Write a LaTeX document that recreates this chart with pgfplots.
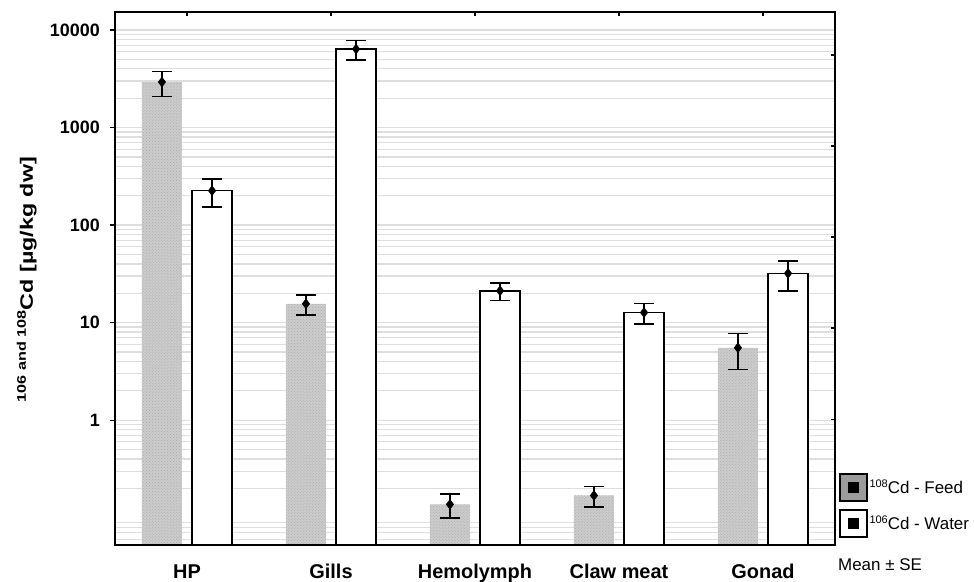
\documentclass[border=0pt]{standalone}
\usepackage{fontspec}
\setmainfont{Liberation Sans}
\usepackage{pgfplots}
\pgfplotsset{compat=1.18}
\usetikzlibrary{patterns}

\definecolor{gridgray}{RGB}{222,222,222}
\definecolor{feedgray}{RGB}{204,204,204}
\definecolor{feeddot}{RGB}{170,170,170}
\definecolor{legendgray}{RGB}{155,155,155}

% mean and SE per tissue; feed bars sit left of each category, water bars right
\pgfplotstableread{
x       y       e
-0.174  2930    840
0.826   15.6    3.6
1.826   0.137   0.038
2.826   0.169   0.040
3.826   5.52    2.2
}\feedtable
\pgfplotstableread{
x       y       e
0.174   225     71
1.174   6383    1460
2.174   21.2    4.4
3.174   12.7    3.0
4.174   32.0    10.8
}\watertable

\begin{document}
\begin{tikzpicture}
\begin{axis}[
  scale only axis, width=720bp, height=533bp,
  xmin=-0.5, xmax=4.5,
  ymode=log, ymin=0.0525, ymax=15300,
  axis line style={line width=1.3bp, black},
  log origin y=infty,
  xtick={0,1,2,3,4},
  xticklabels={HP,Gills,Hemolymph,Claw meat,Gonad},
  xtick style={draw=none},
  xticklabel style={font=\fontsize{20}{20}\selectfont\bfseries, anchor=base, inner sep=0pt, yshift=-28bp},
  ytick={1,10,100,1000,10000},
  yticklabels={1,10,100,1000,10000},
  ytick pos=left,
  tick align=outside,
  major tick length=5bp,
  ytick style={line width=1.3bp, black},
  yticklabel style={font=\fontsize{18}{18}\selectfont\bfseries, anchor=east, inner sep=0pt, xshift=-10bp},
  minor ytick={0.06,0.07,0.08,0.09,0.2,0.3,0.4,0.5,0.6,0.7,0.8,0.9,
               2,3,4,5,6,7,8,9,20,30,40,50,60,70,80,90,
               200,300,400,500,600,700,800,900,2000,3000,4000,5000,6000,7000,8000,9000},
  minor tick length=0pt,
  ymajorgrids, yminorgrids,
  major grid style={gridgray, line width=1.2bp},
  minor grid style={gridgray, line width=1.2bp},
  every axis y label/.style={at={(rel axis cs:0,0.5)}, xshift=-82bp, yshift=-1bp, rotate=90, anchor=base, inner sep=0pt},
  ylabel={\scalebox{1.3}[1]{\bfseries\raisebox{7bp}{\fontsize{12.5}{12.5}\selectfont 106 and 108}\fontsize{18}{18}\selectfont Cd [µg/kg dw]}},
  legend style={at={(rel axis cs:1,0)}, anchor=south west, xshift=4bp, yshift=7bp,
    draw=none, fill=none, inner sep=0pt, row sep=7bp,
    font=\fontsize{17}{17}\selectfont,
    nodes={inner sep=1.5bp}},
  legend cell align=left,
]
\addplot[ybar, bar width=0.278, bar shift=0pt, fill=feedgray, draw=none,
  postaction={pattern=crosshatch dots, pattern color=feeddot}, forget plot]
  table[x=x, y=y] {\feedtable};
\addplot[ybar, bar width=0.278, bar shift=0pt, fill=white, draw=black, line width=1.5bp, forget plot]
  table[x=x, y=y] {\watertable};

\addplot[only marks, mark=diamond*, mark size=5bp, black, forget plot,
  error bars/.cd, y dir=both, y explicit,
  error bar style={line width=1.5bp, black},
  error mark options={rotate=90, mark size=10bp, line width=1.5bp, black}]
  table[x=x, y=y, y error=e] {\feedtable};
\addplot[only marks, mark=diamond*, mark size=5bp, black, forget plot,
  error bars/.cd, y dir=both, y explicit,
  error bar style={line width=1.5bp, black},
  error mark options={rotate=90, mark size=10bp, line width=1.5bp, black}]
  table[x=x, y=y, y error=e] {\watertable};

\addlegendimage{legend image code/.code={
  \draw[line width=1.8bp, fill=legendgray] (0bp,-13.5bp) rectangle (27bp,13.5bp);
  \fill[black] (8.5bp,-5bp) rectangle (18.5bp,5bp);}}
\addlegendentry{\raisebox{6bp}{\fontsize{11}{11}\selectfont 108}Cd - Feed}
\addlegendimage{legend image code/.code={
  \draw[line width=1.8bp, fill=white] (0bp,-13.5bp) rectangle (27bp,13.5bp);
  \fill[black] (8.5bp,-5bp) rectangle (18.5bp,5bp);}}
\addlegendentry{\raisebox{6bp}{\fontsize{11}{11}\selectfont 106}Cd - Water}
\end{axis}

\node[anchor=west, inner sep=0pt, font=\fontsize{17}{17}\selectfont]
  at ([xshift=3bp, yshift=-20bp]current axis.south east) {Mean ± SE};

% inward ticks along the top and right edges of the frame
\begin{axis}[
  scale only axis, width=720bp, height=533bp,
  xmin=-0.5, xmax=4.5,
  ymode=log, ymin=0.0525, ymax=15300,
  axis line style={line width=1.3bp, black},
  xtick={0,1,2,3,4}, xticklabels={}, xtick pos=right,
  ytick={5546,645.7,75.3,8.79,1.023}, yticklabels={}, ytick pos=right,
  minor tick length=0pt,
  tick align=inside, major tick length=4bp,
  tick style={line width=1.3bp, black},
]
\addplot[draw=none, forget plot] coordinates {(0,1)};
\end{axis}

\pgfresetboundingbox
\path ([xshift=-115bp,yshift=-36bp]current axis.south west)
  rectangle ([xshift=139bp,yshift=12bp]current axis.north east);
\end{tikzpicture}
\end{document}
